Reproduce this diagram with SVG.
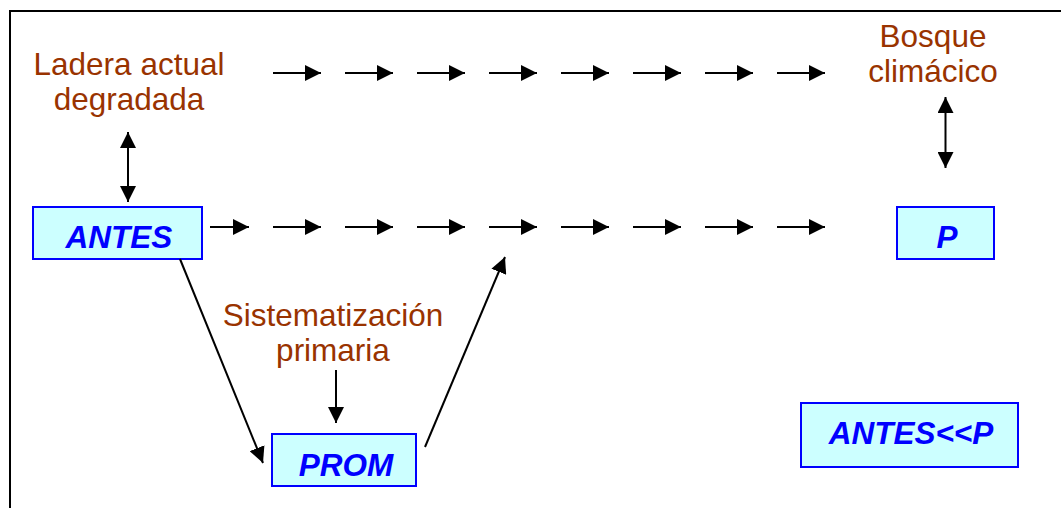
<svg xmlns="http://www.w3.org/2000/svg" width="1061" height="508" viewBox="0 0 1061 508">
<defs>
<style>
.lbl{font-family:"Liberation Sans",Arial,sans-serif;font-size:31.5px;fill:#993300;text-anchor:middle}
.box{fill:#CCFFFF;stroke:#0000FF;stroke-width:2}
.bt{font-family:"Liberation Sans",Arial,sans-serif;font-size:31.5px;font-weight:bold;font-style:italic;fill:#0000FF;text-anchor:middle}
.ar{stroke:#000;stroke-width:2;fill:none;marker-end:url(#ah)}
.dar{stroke:#000;stroke-width:2;fill:none;marker-end:url(#ah);marker-start:url(#ah)}
</style>
<marker id="ah" markerUnits="userSpaceOnUse" markerWidth="17" markerHeight="16" refX="16" refY="8" orient="auto-start-reverse">
<path d="M0,0 L16,8 L0,16 z" fill="#000"/>
</marker>
</defs>
<rect width="1061" height="508" fill="#fff"/>
<path d="M10,520 L10,11 L1070,11" fill="none" stroke="#000" stroke-width="2"/>

<g id="ladera"><text class="lbl" x="129" y="75">Ladera actual</text><text class="lbl" x="129" y="110">degradada</text></g>
<g id="bosque"><text class="lbl" x="933" y="47">Bosque</text><text class="lbl" x="933" y="82">climácico</text></g>
<g id="sistematizacion"><text class="lbl" x="333" y="326">Sistematización</text><text class="lbl" x="333" y="361">primaria</text></g>

<g id="antes"><rect class="box" x="33" y="207" width="169" height="52"/><text class="bt" x="119" y="248">ANTES</text></g>
<g id="p"><rect class="box" x="897" y="207" width="97" height="52"/><text class="bt" x="947" y="248">P</text></g>
<g id="prom"><rect class="box" x="272" y="434" width="144" height="52"/><text class="bt" x="346" y="476">PROM</text></g>
<g id="antes-p"><rect class="box" x="801" y="403" width="217" height="64"/><text class="bt" x="911" y="444">ANTES&lt;&lt;P</text></g>

<g id="connectors">
<line class="ar" x1="273" y1="73" x2="321" y2="73"/>
<line class="ar" x1="345" y1="73" x2="393" y2="73"/>
<line class="ar" x1="417" y1="73" x2="465" y2="73"/>
<line class="ar" x1="489" y1="73" x2="537" y2="73"/>
<line class="ar" x1="561" y1="73" x2="609" y2="73"/>
<line class="ar" x1="633" y1="73" x2="681" y2="73"/>
<line class="ar" x1="705" y1="73" x2="753" y2="73"/>
<line class="ar" x1="777" y1="73" x2="825" y2="73"/>

<line class="ar" x1="210" y1="227" x2="249" y2="227"/>
<line class="ar" x1="273" y1="227" x2="321" y2="227"/>
<line class="ar" x1="345" y1="227" x2="393" y2="227"/>
<line class="ar" x1="417" y1="227" x2="465" y2="227"/>
<line class="ar" x1="489" y1="227" x2="537" y2="227"/>
<line class="ar" x1="561" y1="227" x2="609" y2="227"/>
<line class="ar" x1="633" y1="227" x2="681" y2="227"/>
<line class="ar" x1="705" y1="227" x2="753" y2="227"/>
<line class="ar" x1="777" y1="227" x2="825" y2="227"/>

<line class="dar" x1="128" y1="132" x2="128" y2="202"/>
<line class="dar" x1="945.5" y1="97" x2="945.5" y2="168"/>

<line class="ar" x1="336" y1="370" x2="336" y2="423"/>
<line class="ar" x1="180" y1="259" x2="263" y2="463"/>
<line class="ar" x1="425" y1="447" x2="505" y2="257"/>
</g>
</svg>
